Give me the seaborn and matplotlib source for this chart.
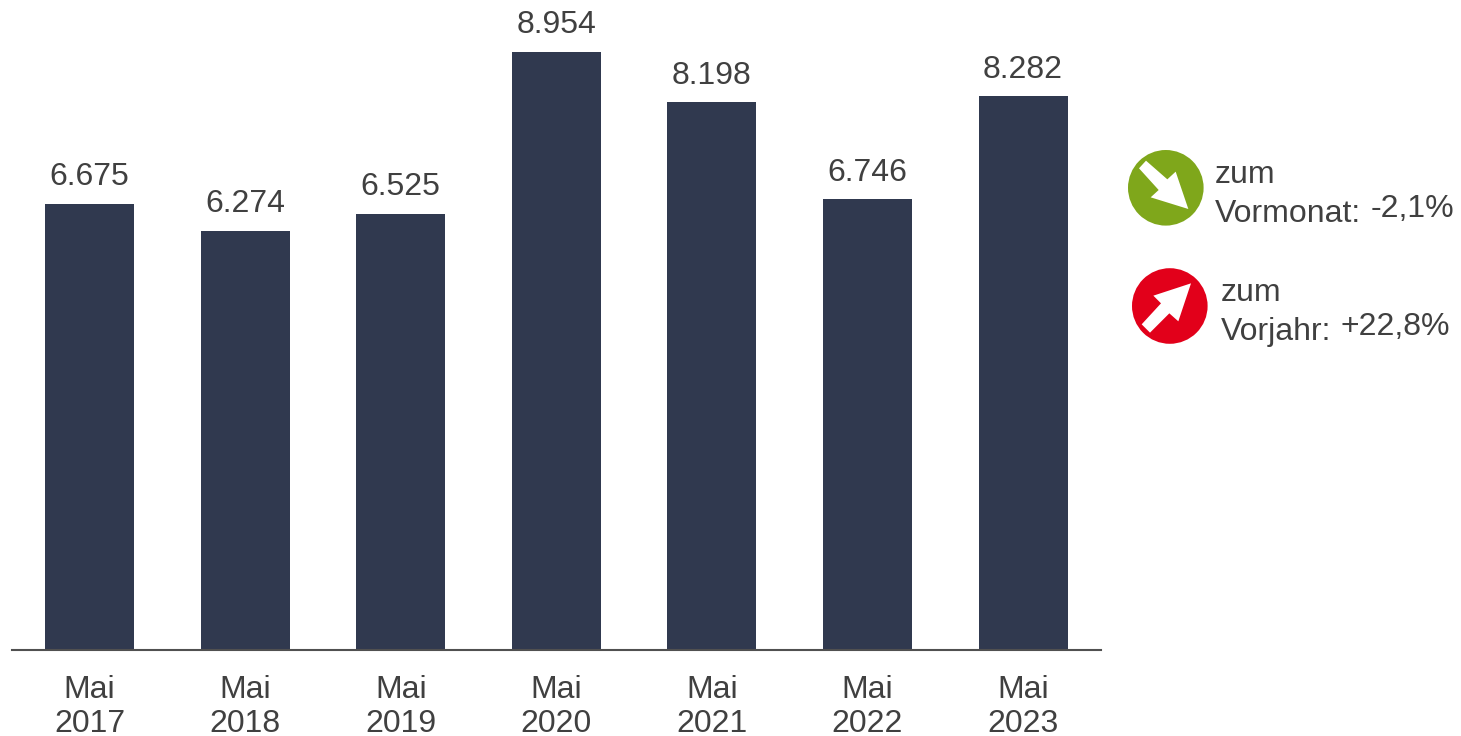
import matplotlib
matplotlib.use("Agg")
import matplotlib.pyplot as plt
import pandas as pd
import seaborn as sns
from matplotlib.patches import Circle, Polygon

months = ["Mai\n2017", "Mai\n2018", "Mai\n2019", "Mai\n2020", "Mai\n2021", "Mai\n2022", "Mai\n2023"]
values = [6675, 6274, 6525, 8954, 8198, 6746, 8282]
value_labels = ["6.675", "6.274", "6.525", "8.954", "8.198", "6.746", "8.282"]

W, H = 1461, 736
BAR = "#30394F"
TXT = "#404040"
FS = 23

sns.set_theme(style="white")
plt.rcParams["font.family"] = ["Liberation Sans", "DejaVu Sans"]

fig = plt.figure(figsize=(W / 100, H / 100), dpi=100, facecolor="white")
ax = fig.add_axes([11.8 / W, (H - 650) / H, 1089 / W, 650 / H])
df = pd.DataFrame({"month": months, "value": values})
sns.barplot(data=df, x="month", y="value", color=BAR, saturation=1, width=0.572, linewidth=0, ax=ax)
ax.set_xlim(-0.5, 6.5)
ax.set_ylim(0, 9725)
ax.set_xlabel("")
ax.set_ylabel("")
ax.set_yticks([])
for s in ["top", "left", "right"]:
    ax.spines[s].set_visible(False)
ax.spines["bottom"].set_color("#505050")
ax.spines["bottom"].set_linewidth(1.5)
ax.tick_params(axis="x", length=0, pad=18, labelsize=FS, labelcolor=TXT)
for lab in ax.get_xticklabels():
    lab.set_linespacing(1.17)
for i, (v, t) in enumerate(zip(values, value_labels)):
    ax.annotate(t, (i, v), xytext=(0, 8.3), textcoords="offset points",
                ha="center", va="bottom", fontsize=FS, color=TXT, annotation_clip=False)

# pictogram overlay, in pixel coordinates of the figure
ov = fig.add_axes([0, 0, 1, 1], facecolor="none")
ov.set_xlim(0, W)
ov.set_ylim(H, 0)
ov.axis("off")


def zoomed(pts):
    return [(1110 + x / 3, 140 + y / 3) for x, y in pts]


ov.add_patch(Circle((1165.8, 187.8), 37.8, fc="#7FA71B", ec="none"))
ov.add_patch(Polygon(zoomed([(108, 62), (172, 118), (197, 95), (235, 207), (122, 172), (146, 150), (87, 85)]),
                     fc="white", ec="none"))
ov.add_patch(Circle((1169.8, 306), 37.8, fc="#E2001A", ec="none"))
ov.add_patch(Polygon(zoomed([(243, 430), (130, 467), (153, 490), (95, 553), (120, 578), (178, 520), (205, 544)]),
                     fc="white", ec="none"))

for x, y, s in [(1215, 183, "zum"), (1215, 222, "Vormonat:"), (1371, 217, "-2,1%"),
                (1221, 301, "zum"), (1221, 340, "Vorjahr:"), (1341, 335, "+22,8%")]:
    ov.text(x, y, s, fontsize=FS, color=TXT, ha="left", va="baseline")

fig.savefig("out.png", dpi=100, facecolor="white")
